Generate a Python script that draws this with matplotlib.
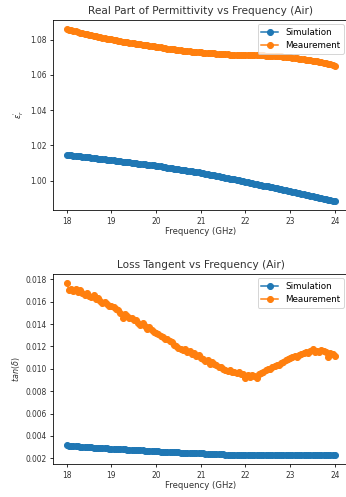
import numpy as np
import matplotlib.pyplot as plt

# frequency grid (GHz), 0.05 GHz step
freq = np.linspace(18, 24, 121)

# real part of permittivity
eps_sim = [1.0147, 1.01455, 1.0144, 1.01425, 1.0141, 1.01395, 1.0138, 1.01365, 1.0135, 1.01335,
           1.0132, 1.01305, 1.0129, 1.01275, 1.0126, 1.01245, 1.0123, 1.01215, 1.0120, 1.01185,
           1.0117, 1.01154, 1.01138, 1.01122, 1.01106, 1.0109, 1.01074, 1.01058, 1.01042, 1.01026,
           1.0101, 1.00994, 1.00978, 1.00962, 1.00946, 1.0093, 1.00914, 1.00898, 1.00882, 1.00866,
           1.0085, 1.0083, 1.0081, 1.0079, 1.0077, 1.0075, 1.0073, 1.0071, 1.0069, 1.0067,
           1.0065, 1.0063, 1.0061, 1.0059, 1.0057, 1.0055, 1.0053, 1.0051, 1.0049, 1.0047,
           1.0045, 1.00425, 1.0040, 1.00375, 1.0035, 1.00325, 1.0030, 1.00275, 1.0025, 1.00225,
           1.0020, 1.00175, 1.0015, 1.00125, 1.0010, 1.00075, 1.0005, 1.00025, 1.0000, 0.99975,
           0.9995, 0.99922, 0.99895, 0.99867, 0.9984, 0.99812, 0.99785, 0.99757, 0.9973, 0.99702,
           0.99675, 0.99647, 0.9962, 0.99592, 0.99565, 0.99537, 0.9951, 0.99482, 0.99455, 0.99427,
           0.9940, 0.99372, 0.99343, 0.99315, 0.99286, 0.99258, 0.99229, 0.99201, 0.99172, 0.99144,
           0.99115, 0.99087, 0.99058, 0.9903, 0.99001, 0.98973, 0.98944, 0.98916, 0.98887, 0.98859,
           0.9883]
eps_meas = [1.0863, 1.0858, 1.0855, 1.0851, 1.0848, 1.0845, 1.0841, 1.0838,
            1.0835, 1.0832, 1.0829, 1.0826, 1.0823, 1.0820, 1.0817, 1.0815,
            1.0812, 1.0810, 1.0807, 1.0804, 1.0802, 1.0800, 1.0797, 1.0795,
            1.0793, 1.0790, 1.0788, 1.0786, 1.0784, 1.0782, 1.0780, 1.0778,
            1.0776, 1.0774, 1.0772, 1.0770, 1.0768, 1.0766, 1.0764, 1.0762,
            1.0760, 1.0758, 1.0756, 1.0754, 1.0752, 1.0750, 1.0749, 1.0747,
            1.0745, 1.0743, 1.0741, 1.0740, 1.0738, 1.0737, 1.0735, 1.0734,
            1.0733, 1.0731, 1.0730, 1.0729, 1.0728, 1.0727, 1.0726, 1.0725,
            1.0724, 1.0723, 1.0722, 1.0721, 1.0720, 1.0719, 1.0718, 1.0718,
            1.0717, 1.0716, 1.0716, 1.0715, 1.0715, 1.0715, 1.0714, 1.0714,
            1.0714, 1.0714, 1.0713, 1.0713, 1.0713, 1.0712, 1.0712, 1.0711,
            1.0711, 1.0710, 1.0710, 1.0709, 1.0709, 1.0708, 1.0707, 1.0706,
            1.0705, 1.0704, 1.0702, 1.0701, 1.0700, 1.0698, 1.0697, 1.0695,
            1.0693, 1.0691, 1.0689, 1.0687, 1.0685, 1.0683, 1.0681, 1.0679,
            1.0677, 1.0675, 1.0672, 1.0670, 1.0667, 1.0664, 1.0660, 1.0657,
            1.0653]

# loss tangent
tan_sim = [0.00316, 0.00314, 0.00312, 0.00310, 0.00309, 0.00307, 0.00305, 0.00303,
           0.00302, 0.00300, 0.00299, 0.00297, 0.00296, 0.00295, 0.00293, 0.00292,
           0.00291, 0.00289, 0.00288, 0.00287, 0.00286, 0.00285, 0.00283, 0.00282,
           0.00281, 0.00280, 0.00279, 0.00278, 0.00276, 0.00275, 0.00274, 0.00273,
           0.00272, 0.00271, 0.00270, 0.00269, 0.00267, 0.00266, 0.00265, 0.00264,
           0.00262, 0.00261, 0.00260, 0.00259, 0.00258, 0.00257, 0.00256, 0.00255,
           0.00254, 0.00253, 0.00252, 0.00251, 0.00250, 0.00249, 0.00249, 0.00248,
           0.00247, 0.00246, 0.00245, 0.00245, 0.00244, 0.00243, 0.00242, 0.00241,
           0.00240, 0.00239, 0.00238, 0.00237, 0.00236, 0.00235, 0.00234, 0.00233,
           0.00232, 0.00231, 0.00230, 0.00230, 0.00229, 0.00228, 0.00228, 0.00227,
           0.00227, 0.00227, 0.00226, 0.00226, 0.00226, 0.00226, 0.00226, 0.00226,
           0.00226, 0.00226, 0.00226, 0.00226, 0.00226, 0.00226, 0.00226, 0.00226,
           0.00226, 0.00226, 0.00226, 0.00226, 0.00226, 0.00226, 0.00226, 0.00226,
           0.00226, 0.00226, 0.00226, 0.00227, 0.00227, 0.00228, 0.00231, 0.00232,
           0.00232, 0.00232, 0.00232, 0.00232, 0.00232, 0.00232, 0.00232, 0.00232,
           0.00232]
tan_meas = [0.01770, 0.01700, 0.01715, 0.01695, 0.01710, 0.01690, 0.01705, 0.01680,
            0.01660, 0.01675, 0.01650, 0.01640, 0.01660, 0.01620, 0.01635, 0.01610,
            0.01590, 0.01600, 0.01575, 0.01565, 0.01560, 0.01550, 0.01530, 0.01525,
            0.01500, 0.01450, 0.01490, 0.01470, 0.01450, 0.01455, 0.01435, 0.01440,
            0.01410, 0.01395, 0.01405, 0.01380, 0.01360, 0.01375, 0.01345, 0.01330,
            0.01320, 0.01310, 0.01290, 0.01285, 0.01265, 0.01270, 0.01245, 0.01235,
            0.01215, 0.01205, 0.01190, 0.01180, 0.01170, 0.01175, 0.01150, 0.01160,
            0.01130, 0.01140, 0.01115, 0.01120, 0.01100, 0.01085, 0.01070, 0.01080,
            0.01045, 0.01060, 0.01040, 0.01030, 0.01020, 0.01015, 0.01000, 0.00990,
            0.00980, 0.00985, 0.00970, 0.00975, 0.00960, 0.00975, 0.00955, 0.00950,
            0.00920, 0.00940, 0.00930, 0.00945, 0.00935, 0.00920, 0.00950, 0.00960,
            0.00975, 0.00985, 0.00995, 0.01000, 0.01015, 0.01025, 0.01035, 0.01030,
            0.01055, 0.01065, 0.01075, 0.01085, 0.01100, 0.01105, 0.01110, 0.01105,
            0.01125, 0.01135, 0.01145, 0.01150, 0.01145, 0.01160, 0.01175, 0.01150,
            0.01160, 0.01150, 0.01165, 0.01155, 0.01150, 0.01105, 0.01145, 0.01135,
            0.01115]

fig = plt.figure(figsize=(346 / 72, 497 / 72), dpi=72)
ax1 = fig.add_axes([53.3 / 346, 287 / 497, 295 / 346, 190 / 497])
ax2 = fig.add_axes([53.3 / 346, 33 / 497, 295 / 346, 190 / 497])

for ax, sim, meas, title, ylab in [
        (ax1, eps_sim, eps_meas, 'Real Part of Permittivity vs Frequency (Air)', r"$\epsilon_r^{'}$"),
        (ax2, tan_sim, tan_meas, 'Loss Tangent vs Frequency (Air)', r'$tan(\delta)$')]:
    ax.plot(freq, sim, 'o-', color='#1f77b4', markersize=6, linewidth=1.5, label='Simulation')
    ax.plot(freq, meas, 'o-', color='#ff7f0e', markersize=6, linewidth=1.5, label='Meaurement')
    ax.set_title(title, fontsize=10.5, color='#333333')
    ax.set_xlabel('Frequency (GHz)', fontsize=8.5, color='#333333', labelpad=2)
    ax.set_ylabel(ylab, fontsize=8, color='#333333')
    ax.tick_params(labelsize=7.5, labelcolor='#333333', length=3)
    ax.legend(loc='upper right', fontsize=8.7, handlelength=2)
    ax.set_xticks([18, 19, 20, 21, 22, 23, 24])

ax1.set_yticks([1.00, 1.02, 1.04, 1.06, 1.08])
ax2.set_yticks([0.002, 0.004, 0.006, 0.008, 0.010, 0.012, 0.014, 0.016, 0.018])

fig.savefig('out.png', dpi=72)
